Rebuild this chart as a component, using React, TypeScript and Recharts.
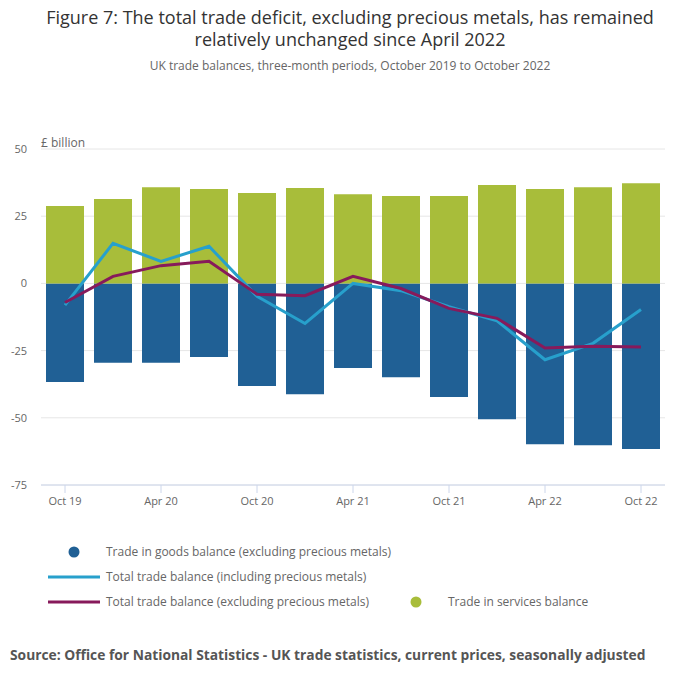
import React from "react";
import {
  ComposedChart, Bar, Line, XAxis, YAxis, CartesianGrid,
} from "recharts";

const FONT = "'Open Sans', sans-serif";
const BLUE = "#206095";
const GREEN = "#a8bd3a";
const CYAN = "#27a0cc";
const PURPLE = "#871a5b";

const periods = [
  "Oct 19", "Jan 20", "Apr 20", "Jul 20", "Oct 20", "Jan 21", "Apr 21",
  "Jul 21", "Oct 21", "Jan 22", "Apr 22", "Jul 22", "Oct 22",
];
const goods = [-36.7, -29.5, -29.5, -27.4, -38.2, -41.2, -31.5, -34.9, -42.3, -50.5, -59.8, -60.2, -61.6];
const services = [28.8, 31.4, 35.8, 35.1, 33.6, 35.5, 33.2, 32.5, 32.5, 36.6, 35.1, 35.8, 37.3];
const totalIncl = [-8.1, 14.9, 8.2, 13.8, -4.8, -14.9, 0.0, -2.7, -8.7, -13.9, -28.4, -22.3, -9.7];
const totalExcl = [-7.1, 2.6, 6.6, 8.2, -4.0, -4.6, 2.6, -1.9, -9.3, -13.0, -24.0, -23.4, -23.7];
const yTicks = [-75, -50, -25, 0, 25, 50];

const data = periods.map((p, i) => ({
  period: p,
  goods: goods[i],
  services: services[i],
  totalIncl: totalIncl[i],
  totalExcl: totalExcl[i],
}));

function Dot({ color }: { color: string }) {
  return (
    <svg width={52} height={12} style={{ display: "block" }}>
      <circle cx={26} cy={6} r={5.5} fill={color} />
    </svg>
  );
}

function Dash({ color }: { color: string }) {
  return (
    <svg width={52} height={12} style={{ display: "block" }}>
      <line x1={0} x2={52} y1={6} y2={6} stroke={color} strokeWidth={3} />
    </svg>
  );
}

const legendText: React.CSSProperties = { fontSize: 12, color: "#666", marginLeft: 6 };

export default function App() {
  return (
    <div style={{ position: "absolute", left: 0, top: 0, width: 700, height: 682, background: "#fff", fontFamily: FONT }}>
      <div style={{ position: "absolute", top: 6, left: 0, width: 700, textAlign: "center", fontSize: 18, color: "#333", lineHeight: "22px" }}>
        Figure 7: The total trade deficit, excluding precious metals, has remained<br />
        relatively unchanged since April 2022
      </div>
      <div style={{ position: "absolute", top: 57, left: 0, width: 700, textAlign: "center", fontSize: 12, color: "#666" }}>
        UK trade balances, three-month periods, October 2019 to October 2022
      </div>
      <div style={{ position: "absolute", top: 134, left: 41, fontSize: 12, color: "#666" }}>£ billion</div>

      <div style={{ position: "absolute", top: 0, left: 0 }}>
        <ComposedChart
          width={700}
          height={520}
          data={data}
          stackOffset="sign"
          margin={{ top: 149, right: 35, bottom: 5, left: 11 }}
          barCategoryGap={0}
        >
          <CartesianGrid vertical={false} stroke="#e6e6e6" />
          <XAxis
            dataKey="period"
            interval={1}
            height={30}
            tickSize={8}
            tickMargin={4}
            axisLine={{ stroke: "#ccd6eb" }}
            tickLine={{ stroke: "#ccd6eb" }}
            tick={{ fontSize: 11, fill: "#666", fontFamily: FONT }}
          />
          <YAxis
            width={30}
            domain={[-75, 50]}
            ticks={yTicks}
            axisLine={false}
            tickLine={false}
            tickMargin={8}
            tick={{ fontSize: 11, fill: "#666", fontFamily: FONT }}
          />
          <Bar dataKey="goods" stackId="a" fill={BLUE} barSize={38} isAnimationActive={false} />
          <Bar dataKey="services" stackId="a" fill={GREEN} barSize={38} isAnimationActive={false} />
          <Line type="linear" dataKey="totalIncl" stroke={CYAN} strokeWidth={3} dot={false} isAnimationActive={false} />
          <Line type="linear" dataKey="totalExcl" stroke={PURPLE} strokeWidth={3} dot={false} isAnimationActive={false} />
        </ComposedChart>
      </div>

      <div style={{ position: "absolute", top: 543, left: 48, display: "flex", alignItems: "center" }}>
        <Dot color={BLUE} />
        <span style={legendText}>Trade in goods balance (excluding precious metals)</span>
      </div>
      <div style={{ position: "absolute", top: 568, left: 48, display: "flex", alignItems: "center" }}>
        <Dash color={CYAN} />
        <span style={legendText}>Total trade balance (including precious metals)</span>
      </div>
      <div style={{ position: "absolute", top: 593, left: 48, display: "flex", alignItems: "center" }}>
        <Dash color={PURPLE} />
        <span style={legendText}>Total trade balance (excluding precious metals)</span>
      </div>
      <div style={{ position: "absolute", top: 593, left: 390, display: "flex", alignItems: "center" }}>
        <Dot color={GREEN} />
        <span style={legendText}>Trade in services balance</span>
      </div>

      <div style={{ position: "absolute", top: 645, left: 10, fontSize: 13.8, fontWeight: 700, color: "#555" }}>
        Source: Office for National Statistics - UK trade statistics, current prices, seasonally adjusted
      </div>
    </div>
  );
}
